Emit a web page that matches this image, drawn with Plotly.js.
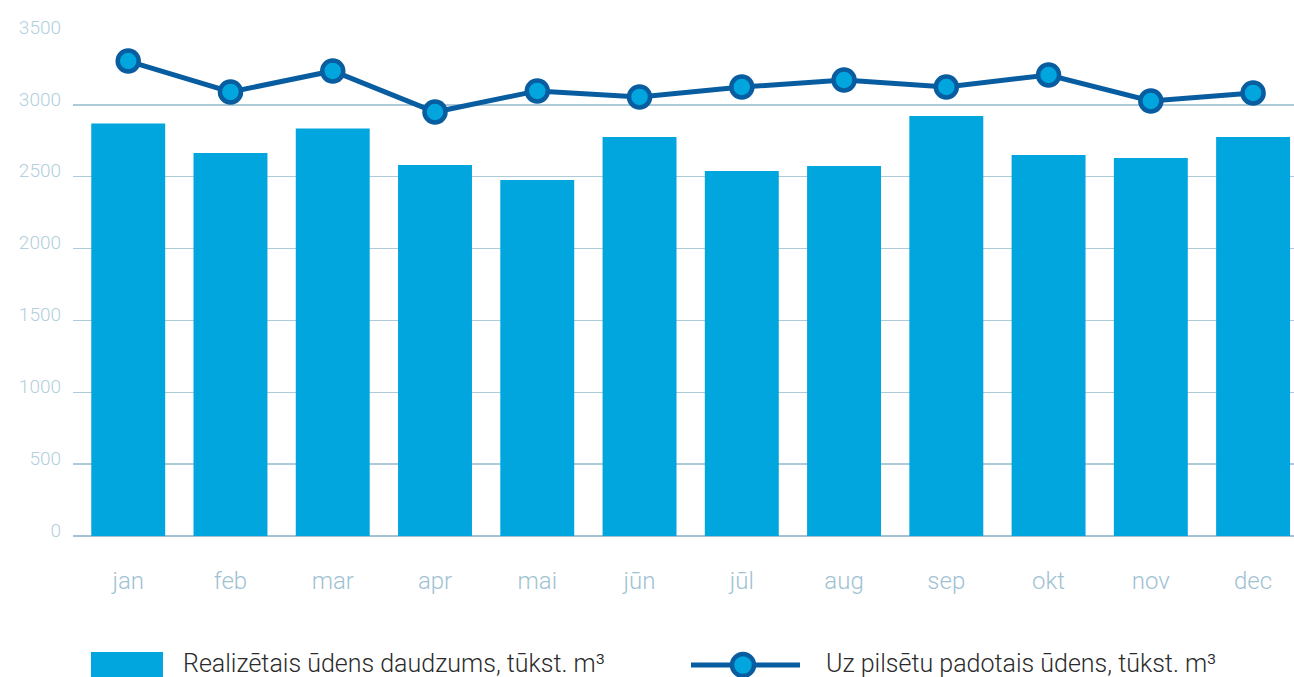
<!DOCTYPE html>
<html>
<head>
<meta charset="utf-8">
<script src="https://cdn.plot.ly/plotly-3.0.1.min.js"></script>
<style>html,body{margin:0;padding:0;background:#fff;}#chart{width:1294px;height:677px;}</style>
</head>
<body>
<div id="chart"></div>
<script>
const months = ["jan","feb","mar","apr","mai","jūn","jūl","aug","sep","okt","nov","dec"];
const realized = [2870, 2665, 2835, 2582, 2477, 2776, 2540, 2575, 2923, 2651, 2630, 2776];
const supplied = [3305, 3090, 3236, 2950, 3097, 3055, 3124, 3173, 3124, 3208, 3027, 3083];
const barName = "Realizētais ūdens daudzums, tūkst. m³";
const lineName = "Uz pilsētu padotais ūdens, tūkst. m³";
const yTicks = [0, 500, 1000, 1500, 2000, 2500, 3000, 3500];

const barColor = "#00a6dd";
const lineColor = "#085da0";
const fontFam = "Roboto, 'Open Sans', sans-serif";

const traces = [
  {type:"bar", x: months, y: realized, name: barName, marker:{color: barColor}, showlegend:false, hoverinfo:"x+y"},
  {type:"scatter", mode:"lines+markers", x: months, y: supplied, name: lineName,
   line:{color: lineColor, width:5}, marker:{size:21, color: barColor, line:{color: lineColor, width:4.5}}, showlegend:false}
];

const legY = -(663-536)/503;

const layout = {
  width:1294, height:677,
  margin:{l:73, r:0, t:33, b:141},
  paper_bgcolor:"#fff", plot_bgcolor:"#fff",
  bargap:0.277,
  font:{family: fontFam, weight:300},
  xaxis:{
    type:"category", range:[-0.54, 11.40], showgrid:false, zeroline:false, showline:false,
    ticks:"", tickfont:{size:24, color:"#9fc2d3", family: fontFam, weight:300},
    ticklabelstandoff: 28
  },
  yaxis:{
    range:[0,3500], tickvals: yTicks, ticktext: yTicks.map(String),
    showgrid:true, gridcolor:"#adcad8", gridwidth:1.3,
    zeroline:true, zerolinecolor:"#a3c3d2", zerolinewidth:2,
    showline:false, ticks:"",
    tickfont:{size:19, color:"#b2cfdc", family: fontFam, weight:300},
    ticklabelstandoff: 11, ticklabelshift: -6
  },
  shapes:[
    {type:"rect", xref:"paper", yref:"paper", x0:(91-73)/1221, x1:(163-73)/1221, y0:-141/503, y1:-(652-536)/503,
     fillcolor: barColor, line:{width:0}},
    {type:"line", xref:"paper", yref:"paper", x0:(691-73)/1221, x1:(800-73)/1221, y0:-(665-536)/503, y1:-(665-536)/503,
     line:{color: lineColor, width:5}},
    {type:"circle", xref:"paper", yref:"paper", xsizemode:"pixel", ysizemode:"pixel",
     xanchor:(743-73)/1221, yanchor:-(665-536)/503, x0:-11, x1:11, y0:-11, y1:11,
     fillcolor: barColor, line:{color: lineColor, width:4.5}}
  ],
  annotations:[
    {xref:"paper", yref:"paper", x:(181-73)/1221, y:legY, xanchor:"left", yanchor:"middle",
     text: barName, showarrow:false, font:{size:25, color:"#2b2b2b", family: fontFam, weight:300}},
    {xref:"paper", yref:"paper", x:(824-73)/1221, y:legY, xanchor:"left", yanchor:"middle",
     text: lineName, showarrow:false, font:{size:25, color:"#2b2b2b", family: fontFam, weight:300}}
  ]
};

Plotly.newPlot("chart", traces, layout, {displayModeBar:false, staticPlot:true});
</script>
</body>
</html>
